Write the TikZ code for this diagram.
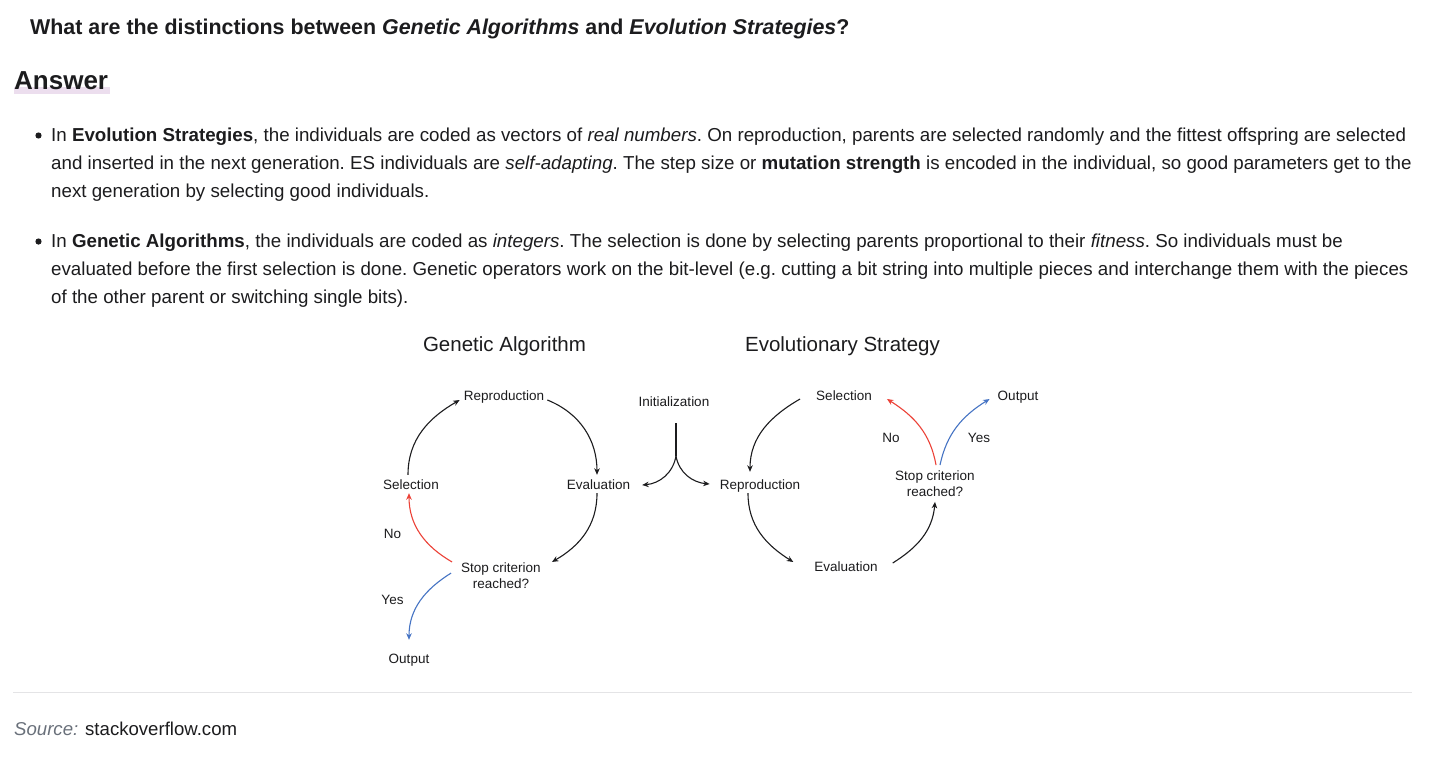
\documentclass[tikz,border=0pt]{standalone}
\usepackage{fontspec}
\setmainfont{Liberation Sans}
\usetikzlibrary{arrows.meta}
\definecolor{ink}{RGB}{28,28,30}
\definecolor{myred}{RGB}{236,66,56}
\definecolor{myblue}{RGB}{70,116,196}
\definecolor{srcgray}{RGB}{105,112,122}
\definecolor{rulegray}{RGB}{228,228,230}
\definecolor{hlpink}{RGB}{236,222,238}
\tikzset{
  bodytxt/.style={anchor=base west, inner sep=0pt, font=\fontsize{18.74}{22}\selectfont\frenchspacing, text=ink},
  lbl/.style={inner sep=0pt, text height=10pt, text depth=3pt, anchor=base, font=\fontsize{13.5}{16}\selectfont, text=ink},
  multi/.style={inner sep=0pt, align=center, font=\fontsize{13.5}{16}\selectfont, text=ink},
  dtitle/.style={anchor=base, inner sep=0pt, font=\fontsize{20.5}{24}\selectfont, text=ink},
  arr/.style={-{Stealth[length=6.5pt,width=5.5pt]}, line width=1.1pt, draw=ink},
  redarr/.style={arr, draw=myred},
  bluearr/.style={arr, draw=myblue},
  bulletdot/.style={fill=ink, draw=none},
}
\begin{document}
\begin{tikzpicture}[x=1pt,y=-1pt]
\path[use as bounding box, fill=white] (0,0) rectangle (1444,758);

% heading
\node[anchor=base west, inner sep=0pt, font=\fontsize{21.4}{25}\selectfont\bfseries, text=ink] (qtitle) at (30,34.5)
  {What are the distinctions between \textit{Genetic Algorithms} and \textit{Evolution Strategies}?};
\fill[hlpink] (14,87) rectangle (110,94);
\node[anchor=base west, inner sep=0pt, font=\fontsize{26}{30}\selectfont\bfseries, text=ink] (answer) at (14,89) {Answer};

% bullets
\fill[bulletdot] (38.5,135.5) circle (3.1);
\node[bodytxt] (l1) at (51,141.5) {In \textbf{Evolution Strategies}, the individuals are coded as vectors of \textit{real numbers}. On reproduction, parents are selected randomly and the fittest offspring are selected};
\node[bodytxt] (l2) at (51,169.3) {and inserted in the next generation. ES individuals are \textit{self-adapting}. The step size or \textbf{mutation strength} is encoded in the individual, so good parameters get to the};
\node[bodytxt] (l3) at (51,197) {next generation by selecting good individuals.};

\fill[bulletdot] (38.5,241.5) circle (3.1);
\node[bodytxt] (l4) at (51,247.7) {In \textbf{Genetic Algorithms}, the individuals are coded as \textit{integers}. The selection is done by selecting parents proportional to their \textit{fitness}. So individuals must be};
\node[bodytxt] (l5) at (51,275.5) {evaluated before the first selection is done. Genetic operators work on the bit-level (e.g. cutting a bit string into multiple pieces and interchange them with the pieces};
\node[bodytxt] (l6) at (51,303.3) {of the other parent or switching single bits).};

% diagram titles
\node[dtitle] (gatitle) at (504.5,351) {Genetic Algorithm};
\node[dtitle] (estitle) at (842.5,351) {Evolutionary Strategy};

% GA nodes
\node[lbl] (grep) at (504,400) {Reproduction};
\node[lbl] (gsel) at (411,489) {Selection};
\node[lbl] (geval) at (598.5,489) {Evaluation};
\node[multi] (gstop) at (501,576.1) {Stop criterion\\reached?};
\node[lbl] (gno) at (392.5,538) {No};
\node[lbl] (gyes) at (392.5,604) {Yes};
\node[lbl] (gout) at (409,663) {Output};

% Initialization
\node[lbl] (ginit) at (674,406) {Initialization};

% ES nodes
\node[lbl] (esel) at (844,400) {Selection};
\node[lbl] (erep) at (760,489) {Reproduction};
\node[lbl] (eeval) at (846,571) {Evaluation};
\node[multi] (estop) at (935,483.2) {Stop criterion\\reached?};
\node[lbl] (eno) at (891,442) {No};
\node[lbl] (eyes) at (979,442) {Yes};
\node[lbl] (eout) at (1018,400) {Output};

% GA connectors
\draw[arr] ([shift={(-3pt,4pt)}]gsel.north) to[out=90,in=210] ([shift={(-4pt,-3.5pt)}]grep.west);
\draw[arr] ([shift={(3pt,-3.5pt)}]grep.east) to[out=-22,in=90] ([shift={(-1.5pt,4pt)}]geval.north);
\draw[arr] ([shift={(-1.5pt,-1pt)}]geval.south) to[out=-90,in=30] ([shift={(11pt,1pt)}]gstop.north east);
\draw[redarr] ([shift={(-9pt,1pt)}]gstop.north west) to[out=150,in=-90] ([shift={(-2pt,-1pt)}]gsel.south);
\draw[bluearr] ([shift={(-10pt,3pt)}]gstop.west) to[out=212,in=90] ([shift={(0pt,13pt)}]gout.north);

% Initialization connectors
\coordinate (itop) at ([shift={(2pt,-14pt)}]ginit.south);
\coordinate (junc) at (676,456);
\draw[line width=1.1pt, draw=ink] (itop) -- (junc);
\draw[arr] (junc) to[out=-100,in=5] ([shift={(12pt,0.5pt)}]geval.east);
\draw[arr] (junc) to[out=-80,in=175] ([shift={(-10pt,1.5pt)}]erep.west);

% ES connectors
\draw[arr] ([shift={(-16pt,-2.5pt)}]esel.west) to[out=210,in=90] ([shift={(-10pt,7pt)}]erep.north);
\draw[arr] ([shift={(-12pt,-1pt)}]erep.south) to[out=-90,in=148] ([shift={(-21pt,5.5pt)}]eeval.west);
\draw[arr] ([shift={(15pt,4.5pt)}]eeval.east) to[out=32,in=-95] ([shift={(0pt,-5.5pt)}]estop.south);
\draw[redarr] ([shift={(1pt,5pt)}]estop.north) to[out=100,in=-32] ([shift={(15pt,-2.5pt)}]esel.east);
\draw[bluearr] ([shift={(5pt,5pt)}]estop.north) to[out=78,in=212] ([shift={(-8pt,-2.5pt)}]eout.west);

% rule and source
\draw[rulegray, line width=1.4pt] (13,692.5) -- (1412,692.5);
\node[anchor=base west, inner sep=0pt, font=\fontsize{18.6}{22}\selectfont, text=ink] (src) at (14,735.7)
  {\textcolor{srcgray}{\textit{Source:}} stackoverflow.com};
\end{tikzpicture}
\end{document}
